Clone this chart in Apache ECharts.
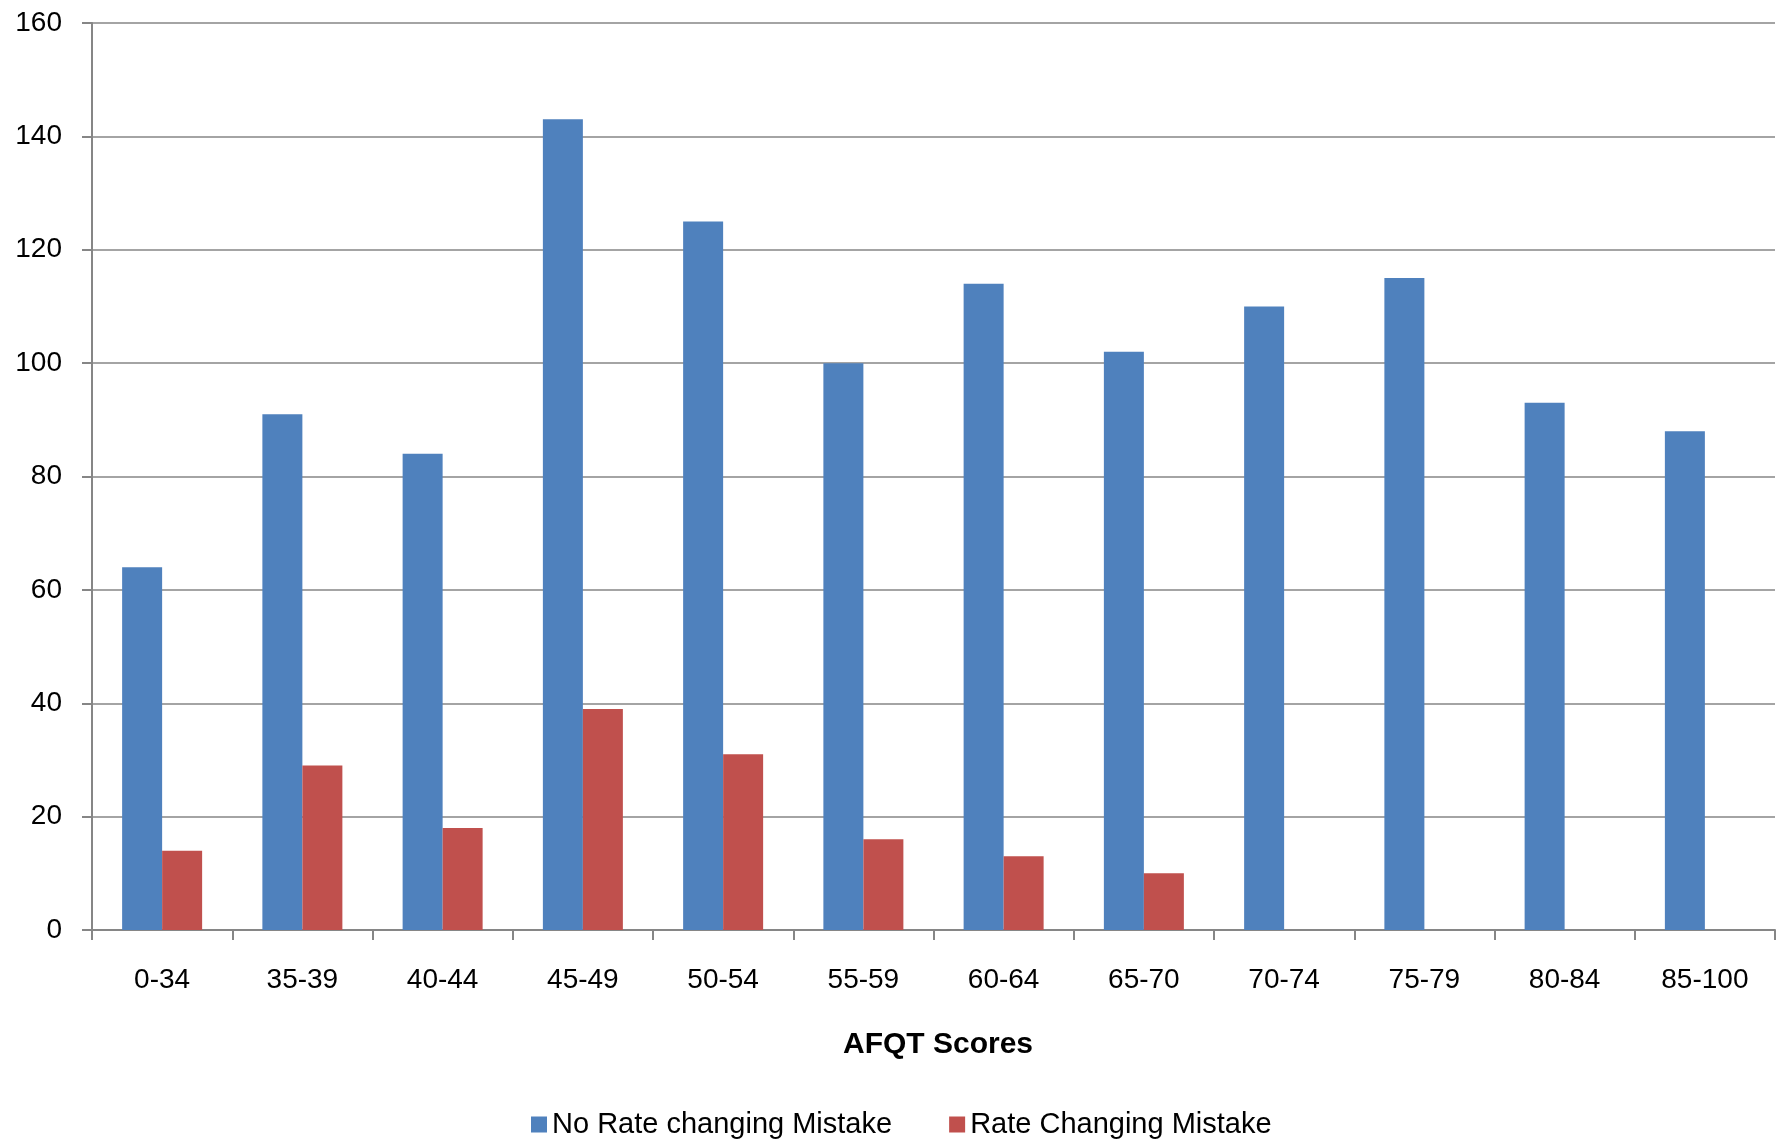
<!DOCTYPE html>
<html>
<head>
<meta charset="utf-8">
<script src="https://cdn.jsdelivr.net/npm/echarts@6/dist/echarts.min.js"></script>
<style>
html,body{margin:0;padding:0;background:#fff;}
#chart{width:1783px;height:1142px;}
</style>
</head>
<body>
<div id="chart"></div>
<script>
const categories = ['0-34','35-39','40-44','45-49','50-54','55-59','60-64','65-70','70-74','75-79','80-84','85-100'];
const noRateChanging = [64, 91, 84, 143, 125, 100, 114, 102, 110, 115, 93, 88];
const rateChanging = [14, 29, 18, 39, 31, 16, 13, 10, 0, 0, 0, 0];
const seriesNames = ['No Rate changing Mistake', 'Rate Changing Mistake'];
const axisTitle = 'AFQT Scores';

const FONT = '"Liberation Sans", Arial, sans-serif';
const chart = echarts.init(document.getElementById('chart'));
chart.setOption({
  animation: false,
  backgroundColor: '#ffffff',
  textStyle: { fontFamily: FONT },
  title: {
    text: axisTitle,
    left: 933, top: 1025, textAlign: 'center',
    textStyle: { fontFamily: FONT, fontSize: 30, fontWeight: 'bold', color: '#000' }
  },
  legend: {
    data: seriesNames,
    left: 531, top: 1110,
    padding: 0,
    itemWidth: 16, itemHeight: 16, itemGap: 57,
    icon: 'rect',
    textStyle: { fontFamily: FONT, fontSize: 29, color: '#000' }
  },
  grid: { left: 92, right: 8, top: 23, bottom: 212, containLabel: false },
  xAxis: {
    type: 'category',
    data: categories,
    boundaryGap: true,
    axisLine: { lineStyle: { color: '#868686', width: 2 } },
    axisTick: { show: true, length: 10, alignWithLabel: false, lineStyle: { color: '#868686', width: 2 } },
    axisLabel: { fontFamily: FONT, fontSize: 28, color: '#000', margin: 36 }
  },
  yAxis: {
    type: 'value',
    min: 0, max: 160, interval: 20,
    axisLine: { show: true, lineStyle: { color: '#868686', width: 2 } },
    axisTick: { show: true, length: 10, lineStyle: { color: '#868686', width: 2 } },
    splitLine: { lineStyle: { color: '#868686', width: 1.5 } },
    axisLabel: { fontFamily: FONT, fontSize: 28, color: '#000', margin: 30 }
  },
  series: [
    { name: seriesNames[0], type: 'bar', data: noRateChanging, barWidth: 40, barGap: '0%',
      itemStyle: { color: '#4F81BD' } },
    { name: seriesNames[1], type: 'bar', data: rateChanging, barWidth: 40, barGap: '0%',
      itemStyle: { color: '#C0504D' } }
  ]
});
</script>
</body>
</html>
